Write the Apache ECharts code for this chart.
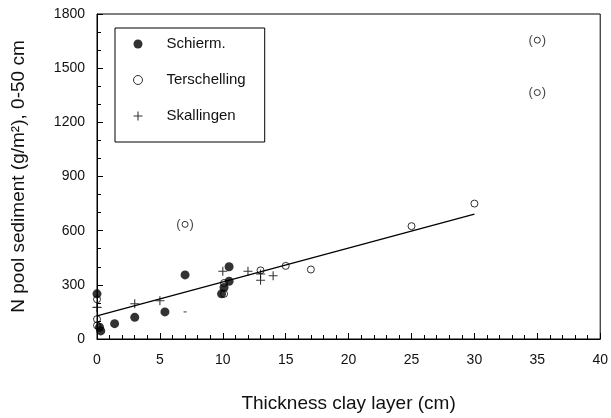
<!DOCTYPE html>
<html>
<head>
<meta charset="utf-8">
<script src="https://cdn.jsdelivr.net/npm/echarts@6/dist/echarts.min.js"></script>
<style>
  html, body { margin: 0; padding: 0; background: #fff; }
  #chart { width: 611px; height: 418px; }
</style>
</head>
<body>
<div id="chart"></div>
<script>
// values: [clay thickness (cm), N pool (g/m2)]
const schiermData = [
  [0, 250], [0.2, 65], [0.3, 45], [1.4, 85], [3, 120], [5.4, 150],
  [7, 355], [9.9, 250], [10.1, 285], [10.5, 320], [10.5, 400]
];
const terschellingData = [
  [0, 220], [0, 110], [0, 75], [10.1, 310], [10.1, 250],
  [13, 380], [15, 405], [17, 385], [25, 625], [30, 750]
];
const skallingenData = [
  [0, 175], [3, 195], [5, 212], [10, 375], [12, 375],
  [13, 360], [13, 325], [14, 350]
];
// Terschelling points shown in brackets (left out of the fit)
const outlierData = [[7, 635], [35, 1655], [35, 1365]];
const dashData = [[7, 150]];
const fitLine = [[0, 128], [30, 692]];

const xTicks = { min: 0, max: 40, interval: 5 };
const yTicks = { min: 0, max: 1800, interval: 300 };

const FONT = "'Liberation Sans', Arial, Helvetica, sans-serif";
const plus = 'path://M4.4,0H5.6V4.4H10V5.6H5.6V10H4.4V5.6H0V4.4H4.4Z';

var myChart = echarts.init(document.getElementById('chart'), null, { renderer: 'canvas' });

var axisCommon = {
  axisLine: { show: true, lineStyle: { color: '#000', width: 1 } },
  axisTick: { show: true, inside: true, length: 6, lineStyle: { color: '#000' } },
  minorTick: { show: true, length: 4, lineStyle: { color: '#000' } },
  splitLine: { show: false },
  axisLabel: { color: '#111', fontSize: 14, fontFamily: FONT, formatter: function (v) { return String(v); } },
  nameLocation: 'middle',
  nameTextStyle: { color: '#111', fontSize: 19, fontFamily: FONT }
};

var option = {
  animation: false,
  backgroundColor: '#fff',
  grid: {
    left: 97, right: 10, top: 14, bottom: 78,
    show: true, borderColor: '#000', borderWidth: 1
  },
  legend: {
    orient: 'vertical',
    left: 115, top: 28,
    padding: [8, 19, 18, 18],
    itemGap: 20,
    itemWidth: 9, itemHeight: 9,
    borderColor: '#000', borderWidth: 1,
    backgroundColor: '#fff',
    selectedMode: false,
    textStyle: { color: '#111', fontSize: 15, fontFamily: FONT, lineHeight: 16, padding: [0, 0, 0, 19] },
    data: [
      'Schierm.',
      { name: 'Terschelling', itemStyle: { borderWidth: 1 } },
      'Skallingen'
    ]
  },
  xAxis: Object.assign({}, axisCommon, {
    type: 'value',
    min: xTicks.min, max: xTicks.max, interval: xTicks.interval,
    minorTick: Object.assign({}, axisCommon.minorTick, { splitNumber: 5 }),
    axisLabel: Object.assign({}, axisCommon.axisLabel, { margin: 14 }),
    name: 'Thickness clay layer (cm)',
    nameGap: 55
  }),
  yAxis: Object.assign({}, axisCommon, {
    type: 'value',
    min: yTicks.min, max: yTicks.max, interval: yTicks.interval,
    minorTick: Object.assign({}, axisCommon.minorTick, { splitNumber: 3 }),
    axisLabel: Object.assign({}, axisCommon.axisLabel, { margin: 12 }),
    name: 'N pool sediment (g/m\u00b2), 0-50 cm',
    nameGap: 69
  }),
  series: [
    {
      name: 'fit',
      type: 'line',
      data: fitLine,
      showSymbol: false,
      silent: true,
      lineStyle: { color: '#000', width: 1.2 },
      z: 1
    },
    {
      name: 'Schierm.',
      type: 'scatter',
      data: schiermData,
      symbol: 'circle',
      symbolSize: 9,
      itemStyle: { color: '#000' },
      z: 2
    },
    {
      name: 'Terschelling',
      type: 'scatter',
      data: terschellingData,
      symbol: 'circle',
      symbolSize: 7,
      itemStyle: { color: 'rgba(255,255,255,0)', borderColor: '#000', borderWidth: 1 },
      z: 3
    },
    {
      name: 'Skallingen',
      type: 'scatter',
      data: skallingenData,
      symbol: plus,
      symbolSize: 9,
      itemStyle: { color: '#000' },
      z: 3
    },
    {
      name: 'bracketed',
      type: 'scatter',
      data: outlierData,
      symbol: 'circle',
      symbolSize: 6,
      itemStyle: { color: 'rgba(255,255,255,0)', borderColor: '#000', borderWidth: 1 },
      label: {
        show: true,
        position: 'inside',
        formatter: '{p|(}{g|}{p|)}',
        rich: {
          p: { fontSize: 13, color: '#111', fontFamily: FONT },
          g: { width: 9 }
        }
      },
      z: 3
    },
    {
      name: 'dash',
      type: 'scatter',
      data: dashData,
      symbol: 'rect',
      symbolSize: [3, 1],
      itemStyle: { color: '#000' },
      z: 3
    }
  ]
};

option && myChart.setOption(option);
</script>
</body>
</html>
